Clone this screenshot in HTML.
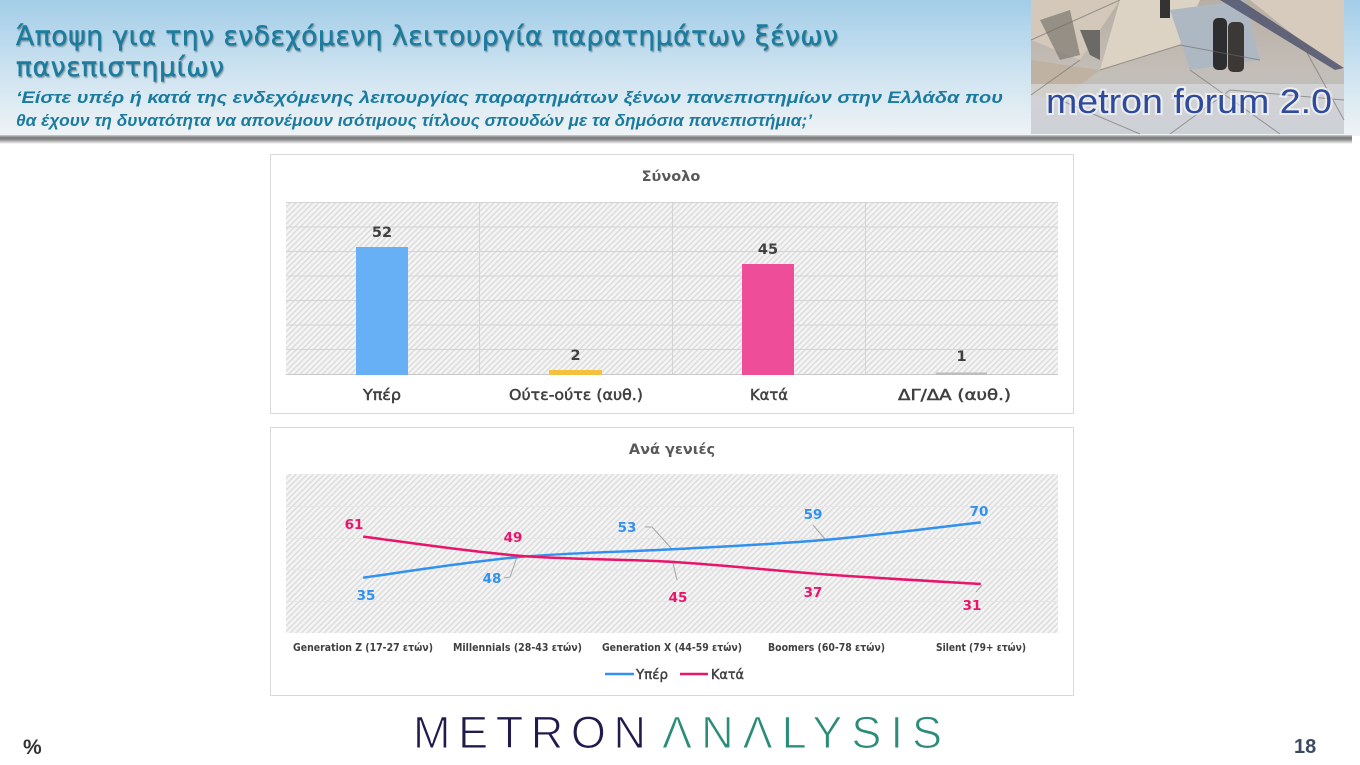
<!DOCTYPE html>
<html><head><meta charset="utf-8"><style>
html,body{margin:0;padding:0;background:#fff;}
svg{display:block;}
</style></head><body>
<svg width="1360" height="765" viewBox="0 0 1360 765" xmlns="http://www.w3.org/2000/svg">
<defs>
  <linearGradient id="hdr" x1="0" y1="0" x2="0" y2="1">
    <stop offset="0" stop-color="#a3cde8"/>
    <stop offset="0.5" stop-color="#cbe2f0"/>
    <stop offset="1" stop-color="#eff3f5"/>
  </linearGradient>
  <linearGradient id="shd" x1="0" y1="0" x2="0" y2="1">
    <stop offset="0" stop-color="#c9cdd0"/>
    <stop offset="0.3" stop-color="#7a7a7a"/>
    <stop offset="0.5" stop-color="#8a8a8a"/>
    <stop offset="1" stop-color="#ffffff"/>
  </linearGradient>
  <linearGradient id="img" x1="0" y1="0" x2="0" y2="1">
    <stop offset="0" stop-color="#b8afa4"/>
    <stop offset="0.55" stop-color="#c3beb8"/>
    <stop offset="1" stop-color="#b4b8bf"/>
  </linearGradient>
  <pattern id="hatch" width="4" height="4" patternUnits="userSpaceOnUse" patternTransform="rotate(45)">
    <rect width="4" height="4" fill="#f4f4f4"/>
    <rect width="1.4" height="4" fill="#dbdbdb"/>
  </pattern>
  <filter id="ts" x="-5%" y="-20%" width="110%" height="140%">
    <feDropShadow dx="1" dy="1.5" stdDeviation="0.6" flood-color="#5a6a70" flood-opacity="0.55"/>
  </filter>
</defs>

<!-- header -->
<rect x="0" y="0" width="1360" height="136" fill="url(#hdr)"/>
<rect x="0" y="135" width="1352" height="9" fill="url(#shd)"/>

<g font-family="'DejaVu Sans', sans-serif" fill="#1b7b9e" stroke="#1b7b9e" stroke-width="0.5" filter="url(#ts)">
  <text x="16" y="45" font-size="26.5" textLength="822" lengthAdjust="spacing">Άποψη για την ενδεχόμενη λειτουργία παρατημάτων ξένων</text>
  <text x="16" y="76" font-size="26.5" textLength="208" lengthAdjust="spacing">πανεπιστημίων</text>
</g>
<g font-family="'Liberation Sans', sans-serif" fill="#1b7b9e" font-weight="bold" font-style="italic" font-size="17">
  <text x="16" y="103" textLength="987" lengthAdjust="spacingAndGlyphs">‘Είστε υπέρ ή κατά της ενδεχόμενης λειτουργίας παραρτημάτων ξένων πανεπιστημίων στην Ελλάδα που</text>
  <text x="16" y="126" textLength="796" lengthAdjust="spacingAndGlyphs">θα έχουν τη δυνατότητα να απονέμουν ισότιμους τίτλους σπουδών με τα δημόσια πανεπιστήμια;’</text>
</g>

<!-- header image -->
<g>
  <rect x="1031" y="0" width="313" height="134" fill="url(#img)"/>
  <polygon points="1031,0 1120,0 1080,60 1031,40" fill="#d3c8ba"/>
  <polygon points="1120,0 1200,0 1180,45 1100,70" fill="#ddd3c5"/>
  <polygon points="1170,10 1245,0 1260,60 1190,70" fill="#aeb8c2"/>
  <polygon points="1250,0 1344,0 1344,70 1300,40" fill="#d6cbbd"/>
  <polygon points="1220,0 1335,70 1344,68 1240,0" fill="#4a4f6a" opacity="0.8"/>
  <polygon points="1031,60 1100,70 1060,100 1031,95" fill="#bfb2a2"/>
  <polygon points="1040,20 1070,10 1080,55 1060,60" fill="#7a7670" opacity="0.7"/>
  <polygon points="1080,30 1100,30 1100,60 1090,55" fill="#6c6a66"/>
  <rect x="1213" y="18" width="14" height="52" fill="#2e2e30" rx="5"/>
  <rect x="1228" y="22" width="16" height="50" fill="#3b3836" rx="5"/>
  <rect x="1160" y="0" width="10" height="18" fill="#333"/>
  <rect x="1031" y="84" width="313" height="50" fill="#dde1e6" opacity="0.6"/>
  <g fill="none" stroke="#6d6a66" stroke-width="1" opacity="0.6">
    <path d="M1031,40 L1120,0 M1080,60 L1031,95 M1100,70 L1180,45 L1260,60 M1190,70 L1280,134 M1060,100 L1140,134 M1300,40 L1344,120 M1170,134 L1230,90 L1344,100"/>
  </g>
  <text x="1046" y="113" font-family="'Liberation Sans', sans-serif" font-size="34" fill="#ffffff" stroke="#ffffff" stroke-width="4" opacity="0.6" textLength="286" lengthAdjust="spacingAndGlyphs">metron forum 2.0</text>
  <text x="1046" y="113" font-family="'Liberation Sans', sans-serif" font-size="34" fill="#2d4a9c" textLength="286" lengthAdjust="spacingAndGlyphs">metron forum 2.0</text>
</g>

<!-- TOP CHART -->
<rect x="270.5" y="154.5" width="803" height="259" fill="#fff" stroke="#d9d9d9"/>
<text x="671" y="181" text-anchor="middle" font-family="'DejaVu Sans', sans-serif" font-size="14.5" font-weight="bold" fill="#595959">Σύνολο</text>
<rect x="286" y="202" width="772" height="173" fill="url(#hatch)"/>
<g stroke="#d4d4d4" stroke-width="1">
  <line x1="286" y1="202.5" x2="1058" y2="202.5"/>
  <line x1="286" y1="227" x2="1058" y2="227"/>
  <line x1="286" y1="251.5" x2="1058" y2="251.5"/>
  <line x1="286" y1="276" x2="1058" y2="276"/>
  <line x1="286" y1="300.5" x2="1058" y2="300.5"/>
  <line x1="286" y1="325" x2="1058" y2="325"/>
  <line x1="286" y1="349.5" x2="1058" y2="349.5"/>
  <line x1="479.5" y1="202" x2="479.5" y2="375"/>
  <line x1="672.5" y1="202" x2="672.5" y2="375"/>
  <line x1="865.5" y1="202" x2="865.5" y2="375"/>
</g>
<line x1="286" y1="374.5" x2="1058" y2="374.5" stroke="#c8c8c8"/>
<rect x="356" y="247" width="52" height="128" fill="#68b0f6"/>
<rect x="549" y="370" width="53" height="5" fill="#f4c13e"/>
<rect x="742" y="264" width="52" height="111" fill="#ee4d9a"/>
<rect x="936" y="372.5" width="51" height="2.5" fill="#bdbdbd"/>
<g font-family="'DejaVu Sans', sans-serif" font-size="14.5" font-weight="bold" fill="#404040" text-anchor="middle">
  <text x="382" y="237">52</text>
  <text x="575.5" y="360">2</text>
  <text x="768" y="254">45</text>
  <text x="961.5" y="361">1</text>
</g>
<g font-family="'DejaVu Sans', sans-serif" font-size="15" fill="#404040" stroke="#404040" stroke-width="0.5">
  <text x="363" y="400" textLength="38" lengthAdjust="spacingAndGlyphs">Υπέρ</text>
  <text x="509" y="400" textLength="134" lengthAdjust="spacingAndGlyphs">Ούτε-ούτε (αυθ.)</text>
  <text x="750" y="400" textLength="38" lengthAdjust="spacingAndGlyphs">Κατά</text>
  <text x="898" y="400" textLength="113" lengthAdjust="spacingAndGlyphs">ΔΓ/ΔΑ (αυθ.)</text>
</g>

<!-- BOTTOM CHART -->
<rect x="270.5" y="427.5" width="803" height="268" fill="#fff" stroke="#d9d9d9"/>
<text x="672" y="454" text-anchor="middle" font-family="'DejaVu Sans', sans-serif" font-size="14.5" font-weight="bold" fill="#595959">Ανά γενιές</text>
<rect x="286" y="474" width="772" height="159" fill="url(#hatch)"/>
<g stroke="#e6e6e6" stroke-width="1">
  <line x1="286" y1="506.5" x2="1058" y2="506.5"/>
  <line x1="286" y1="538.5" x2="1058" y2="538.5"/>
  <line x1="286" y1="570" x2="1058" y2="570"/>
  <line x1="286" y1="601.5" x2="1058" y2="601.5"/>
</g>
<!-- leader lines -->
<g fill="none" stroke="#a6a6a6" stroke-width="1">
  <path d="M504,578 L510,577 L517,557"/>
  <path d="M645,527 L652,527 L671,548"/>
  <path d="M673,563 L677,580"/>
  <path d="M813,525 L825,539"/>
  <path d="M982,585 L976,592"/>
</g>
<path d="M363.2,577.7 C388.9,574.3 466.1,561.9 517.6,557.2 C569.1,552.5 620.5,552.2 672,549.3 C723.5,546.4 774.9,544.3 826.4,539.8 C877.9,535.3 955.1,525.3 980.8,522.4" fill="none" stroke="#3291ef" stroke-width="2.5"/>
<path d="M363.2,536.6 C388.9,539.8 466.1,551.4 517.6,555.6 C569.1,559.8 620.5,558.7 672,561.9 C723.5,565.05 774.9,570.8 826.4,574.5 C877.9,578.2 955.1,582.4 980.8,584" fill="none" stroke="#e8156b" stroke-width="2.5"/>
<g font-family="'DejaVu Sans', sans-serif" font-size="13.5" font-weight="bold" text-anchor="middle">
  <text x="354" y="529" fill="#e8156b">61</text>
  <text x="366" y="600" fill="#3291ef">35</text>
  <text x="513" y="542" fill="#e8156b">49</text>
  <text x="492" y="583" fill="#3291ef">48</text>
  <text x="627" y="532" fill="#3291ef">53</text>
  <text x="678" y="602" fill="#e8156b">45</text>
  <text x="813" y="519" fill="#3291ef">59</text>
  <text x="813" y="597" fill="#e8156b">37</text>
  <text x="979" y="516" fill="#3291ef">70</text>
  <text x="972" y="610" fill="#e8156b">31</text>
</g>
<g font-family="'DejaVu Sans', sans-serif" font-size="10.5" font-weight="bold" fill="#404040">
  <text x="293" y="651" textLength="140" lengthAdjust="spacingAndGlyphs">Generation Z (17-27 ετών)</text>
  <text x="453" y="651" textLength="129" lengthAdjust="spacingAndGlyphs">Millennials (28-43 ετών)</text>
  <text x="602" y="651" textLength="140" lengthAdjust="spacingAndGlyphs">Generation X (44-59 ετών)</text>
  <text x="768" y="651" textLength="117" lengthAdjust="spacingAndGlyphs">Boomers (60-78 ετών)</text>
  <text x="936" y="651" textLength="90" lengthAdjust="spacingAndGlyphs">Silent (79+ ετών)</text>
</g>
<line x1="605" y1="674" x2="634" y2="674" stroke="#3291ef" stroke-width="2.5"/>
<line x1="680" y1="674" x2="708" y2="674" stroke="#e8156b" stroke-width="2.5"/>
<g font-family="'DejaVu Sans', sans-serif" font-size="13.5" fill="#404040" stroke="#404040" stroke-width="0.45">
  <text x="636" y="679" textLength="32" lengthAdjust="spacingAndGlyphs">Υπέρ</text>
  <text x="711" y="679" textLength="33" lengthAdjust="spacingAndGlyphs">Κατά</text>
</g>

<!-- footer -->
<text x="413" y="748" font-family="'Liberation Sans', sans-serif" font-size="45" fill="#1f1b4d" stroke="#ffffff" stroke-width="1.1" textLength="233" lengthAdjust="spacing">METRON</text>
<text x="662" y="748" font-family="'Liberation Sans', sans-serif" font-size="45" fill="#2a8c79" stroke="#ffffff" stroke-width="1.1" textLength="280" lengthAdjust="spacing">ΛNΛLYSIS</text>
<text x="23" y="754" font-family="'Liberation Sans', sans-serif" font-size="21" font-weight="bold" fill="#333">%</text>
<text x="1294" y="753" font-family="'Liberation Sans', sans-serif" font-size="20" font-weight="bold" fill="#3b4a61">18</text>
</svg>
</body></html>
